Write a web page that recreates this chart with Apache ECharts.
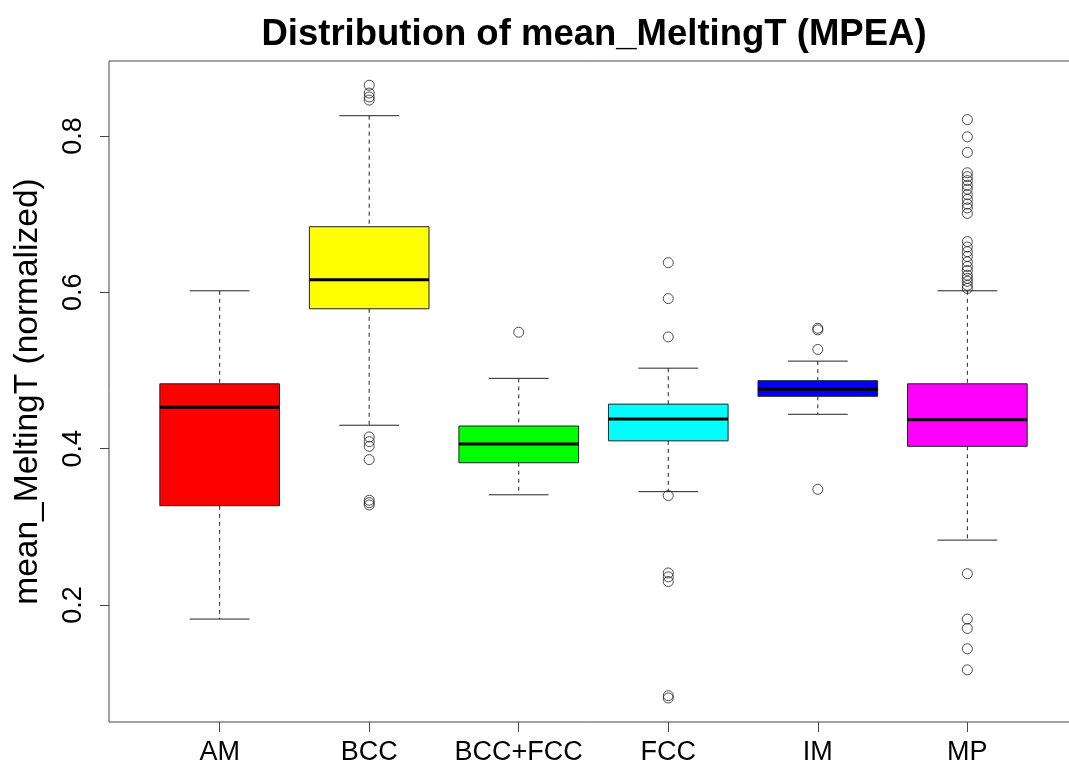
<!DOCTYPE html>
<html>
<head>
<meta charset="utf-8">
<script src="https://cdn.jsdelivr.net/npm/echarts@6/dist/echarts.min.js"></script>
<style>
html,body{margin:0;padding:0;background:#fff;}
#chart{width:1069px;height:767px;}
</style>
</head>
<body>
<div id="chart"></div>
<script>
// ---- data ----
var categories = ['AM', 'BCC', 'BCC+FCC', 'FCC', 'IM', 'MP'];
var whiskerLow  = [0.182, 0.430, 0.341, 0.345, 0.444, 0.283];
var q1          = [0.327, 0.579, 0.382, 0.410, 0.467, 0.403];
var median      = [0.453, 0.616, 0.406, 0.438, 0.476, 0.437];
var q3          = [0.483, 0.684, 0.429, 0.457, 0.487, 0.483];
var whiskerHigh = [0.602, 0.826, 0.490, 0.503, 0.512, 0.602];
var outliersAM = [];
var outliersBCC = [0.865, 0.855, 0.850, 0.846, 0.415, 0.409, 0.403, 0.386, 0.334, 0.331, 0.328];
var outliersBCCFCC = [0.549];
var outliersFCC = [0.638, 0.592, 0.543, 0.340, 0.241, 0.236, 0.230, 0.084, 0.081];
var outliersIM = [0.554, 0.552, 0.527, 0.348];
var outliersMP = [0.821, 0.799, 0.779, 0.753, 0.748, 0.743, 0.737, 0.732, 0.725, 0.719, 0.713, 0.708, 0.701,
                  0.665, 0.658, 0.652, 0.646, 0.639, 0.633, 0.628, 0.622, 0.618, 0.614, 0.609, 0.605,
                  0.240, 0.182, 0.170, 0.144, 0.117];
var yTicks = [0.2, 0.4, 0.6, 0.8];

// ---- styles ----
var boxColors = ['#FF0000', '#FFFF00', '#00FF00', '#00FFFF', '#0000FF', '#FF00FF'];

var boxData = categories.map(function (c, i) {
  return [i + 1, whiskerLow[i], q1[i], median[i], q3[i], whiskerHigh[i]];
});
var outlierGroups = [outliersAM, outliersBCC, outliersBCCFCC, outliersFCC, outliersIM, outliersMP];
var outlierData = [];
outlierGroups.forEach(function (arr, i) {
  arr.forEach(function (v) { outlierData.push([i + 1, v]); });
});
var xTicks = categories.map(function (c, i) { return i + 1; });

var chart = echarts.init(document.getElementById('chart'), null, {renderer: 'canvas'});
var FONT = 'Liberation Sans, Arial, sans-serif';

chart.setOption({
  animation: false,
  backgroundColor: '#fff',
  title: {
    text: 'Distribution of mean_MeltingT (MPEA)',
    left: 589,
    textAlign: 'center',
    top: 11,
    textStyle: {fontFamily: FONT, fontWeight: 'bold', fontSize: 36.5, color: '#000'}
  },
  grid: {
    left: 109, width: 969, top: 61, bottom: 45,
    outerBoundsMode: 'none', containLabel: false,
    show: true, borderColor: '#444', borderWidth: 1, backgroundColor: 'transparent'
  },
  xAxis: {
    type: 'value', min: 0.26, max: 6.74,
    axisLine: {show: false},
    splitLine: {show: false},
    axisTick: {show: true, customValues: xTicks, length: 10, lineStyle: {color: '#444'}},
    axisLabel: {
      customValues: xTicks, margin: 17,
      formatter: function (v) { return categories[Math.round(v) - 1] || ''; },
      fontFamily: FONT, fontSize: 27, color: '#000'
    }
  },
  yAxis: {
    type: 'value', min: 0.0503, max: 0.896,
    name: 'mean_MeltingT (normalized)',
    nameLocation: 'middle', nameGap: 64,
    nameTextStyle: {fontFamily: FONT, fontSize: 33.5, color: '#000'},
    axisLine: {show: false},
    splitLine: {show: false},
    axisTick: {show: true, customValues: yTicks, length: 9, lineStyle: {color: '#444'}},
    axisLabel: {
      customValues: yTicks, rotate: 90, margin: 22,
      formatter: function (v) { return v.toFixed(1); },
      fontFamily: FONT, fontSize: 27, color: '#000'
    }
  },
  series: [
    {
      type: 'custom',
      data: boxData,
      encode: {x: 0, y: [1, 2, 3, 4, 5]},
      renderItem: function (params, api) {
        var x = api.value(0);
        var pMin = api.coord([x, api.value(1)]);
        var pQ1 = api.coord([x, api.value(2)]);
        var pMed = api.coord([x, api.value(3)]);
        var pQ3 = api.coord([x, api.value(4)]);
        var pMax = api.coord([x, api.value(5)]);
        var bw = api.size([0.8, 0])[0];
        var cw = api.size([0.4, 0])[0];
        var cx = pMin[0];
        var dash = {stroke: '#222', lineWidth: 1, lineDash: [4, 4]};
        var solid = {stroke: '#222', lineWidth: 1};
        return {
          type: 'group',
          children: [
            {type: 'line', shape: {x1: cx, y1: pMax[1], x2: cx, y2: pQ3[1]}, style: dash},
            {type: 'line', shape: {x1: cx, y1: pQ1[1], x2: cx, y2: pMin[1]}, style: dash},
            {type: 'line', shape: {x1: cx - cw / 2, y1: pMax[1], x2: cx + cw / 2, y2: pMax[1]}, style: solid},
            {type: 'line', shape: {x1: cx - cw / 2, y1: pMin[1], x2: cx + cw / 2, y2: pMin[1]}, style: solid},
            {type: 'rect', shape: {x: cx - bw / 2, y: pQ3[1], width: bw, height: pQ1[1] - pQ3[1]},
             style: {fill: boxColors[params.dataIndex], stroke: '#222', lineWidth: 1}},
            {type: 'line', shape: {x1: cx - bw / 2, y1: pMed[1], x2: cx + bw / 2, y2: pMed[1]},
             style: {stroke: '#000', lineWidth: 3}}
          ]
        };
      }
    },
    {
      type: 'scatter',
      data: outlierData,
      symbol: 'circle',
      symbolSize: 10,
      itemStyle: {color: 'rgba(0,0,0,0)', borderColor: '#222', borderWidth: 1},
      z: 5
    }
  ]
});
</script>
</body>
</html>
